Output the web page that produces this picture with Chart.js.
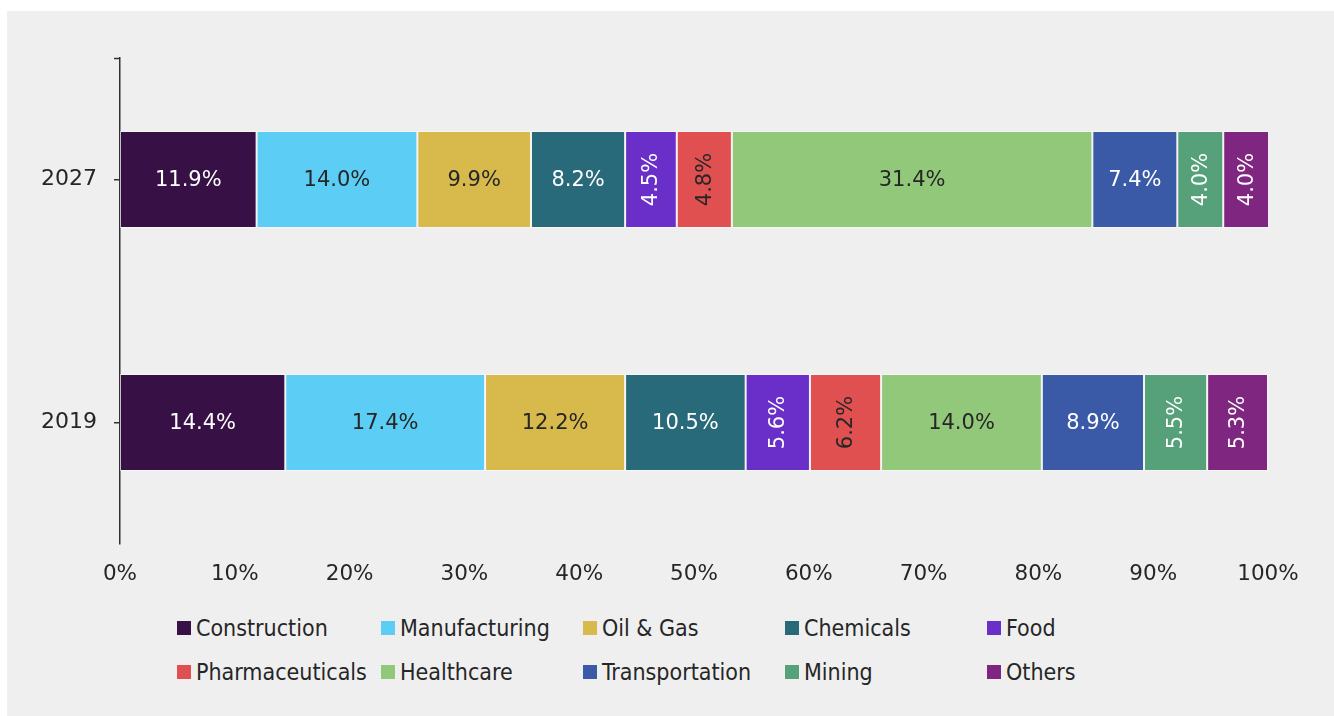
<!DOCTYPE html>
<html>
<head>
<meta charset="utf-8">
<script src="https://cdn.jsdelivr.net/npm/chart.js@4/dist/chart.umd.min.js"></script>
<style>
    html, body { margin: 0; padding: 0; background: #ffffff; }
    body { width: 1334px; height: 716px; position: relative; overflow: hidden; }
    #panel { position: absolute; left: 7px; top: 11px; right: 0; bottom: 0; background: #efefef; }
    #chart-wrap { position: absolute; left: 0; top: 0; width: 1334px; height: 600px; }
    #legend { position: absolute; left: 177px; top: 614px; display: grid;
        grid-template-columns: 204px 202px 202px 202px 202px; row-gap: 17px;
        font-family: "DejaVu Sans Condensed", "Liberation Sans", sans-serif; font-size: 23px; color: #262626; }
    .item { display: flex; align-items: center; white-space: nowrap; height: 27px; }
    .swatch { width: 14px; height: 14px; margin-right: 5px; flex: none; }
</style>
</head>
<body>
<div id="panel"></div>
<div id="chart-wrap"><canvas id="mix-canvas" width="1334" height="600"></canvas></div>
<div id="legend"></div>
<script>
(function () {
    'use strict';

    var years = ['2027', '2019'];
    var sectors = ['Construction', 'Manufacturing', 'Oil & Gas', 'Chemicals', 'Food',
        'Pharmaceuticals', 'Healthcare', 'Transportation', 'Mining', 'Others'];
    // share per sector, [2027, 2019]
    var construction = [11.9, 14.4];
    var manufacturing = [14.0, 17.4];
    var oilGas = [9.9, 12.2];
    var chemicals = [8.2, 10.5];
    var food = [4.5, 5.6];
    var pharma = [4.8, 6.2];
    var healthcare = [31.4, 14.0];
    var transportation = [7.4, 8.9];
    var mining = [4.0, 5.5];
    var others = [4.0, 5.3];
    var xTicks = [0, 10, 20, 30, 40, 50, 60, 70, 80, 90, 100];

    var values = [construction, manufacturing, oilGas, chemicals, food,
        pharma, healthcare, transportation, mining, others];
    var colors = ['#371046', '#5ccdf4', '#d8b94b', '#286a7a', '#6a2fc9',
        '#e05050', '#91c87a', '#3a5aa8', '#56a07a', '#7f2680'];
    var darkText = ['Manufacturing', 'Oil & Gas', 'Pharmaceuticals', 'Healthcare'];

    var datasets = sectors.map(function (name, i) {
        return {
            label: name,
            data: values[i],
            backgroundColor: colors[i],
            borderColor: 'rgba(255,255,255,0.45)',
            borderWidth: 1,
            borderSkipped: false,
            barPercentage: 0.4,
            categoryPercentage: 1,
        };
    });

    var valueFont = '21px "DejaVu Sans", "Liberation Sans", sans-serif';

    var barLabels = {
        id: 'barLabels',
        afterDatasetsDraw: function (chart) {
            var ctx = chart.ctx;
            ctx.save();
            ctx.font = valueFont;
            ctx.textAlign = 'center';
            ctx.textBaseline = 'middle';
            chart.data.datasets.forEach(function (ds, di) {
                var meta = chart.getDatasetMeta(di);
                ctx.fillStyle = darkText.indexOf(ds.label) >= 0 ? '#262626' : '#ffffff';
                meta.data.forEach(function (bar, i) {
                    var v = ds.data[i];
                    var cx = (bar.x + bar.base) / 2;
                    var txt = v.toFixed(1) + '%';
                    ctx.save();
                    ctx.translate(cx, bar.y);
                    if (v < 7) ctx.rotate(-Math.PI / 2);
                    ctx.fillText(txt, 0, 1);
                    ctx.restore();
                });
            });
            // little tick at the top end of the category axis
            var y = chart.scales.y;
            ctx.strokeStyle = '#303030';
            ctx.lineWidth = 1.5;
            ctx.beginPath();
            ctx.moveTo(y.right - 6, y.top + 0.5);
            ctx.lineTo(y.right, y.top + 0.5);
            ctx.stroke();
            ctx.restore();
        },
    };

    new Chart(document.getElementById('mix-canvas'), {
        type: 'bar',
        data: { labels: years, datasets: datasets },
        plugins: [barLabels],
        options: {
            indexAxis: 'y',
            responsive: false,
            animation: false,
            layout: { padding: { top: 58, right: 66, left: 0, bottom: 0 } },
            plugins: {
                legend: { display: false },
                tooltip: { enabled: false },
            },
            scales: {
                x: {
                    stacked: true,
                    min: 0,
                    max: 100,
                    afterFit: function (scale) { scale.height = 56; },
                    afterBuildTicks: function (scale) {
                        scale.ticks = xTicks.map(function (v) { return { value: v }; });
                    },
                    border: { display: false },
                    grid: { display: false, drawTicks: false },
                    ticks: {
                        padding: 18,
                        color: '#262626',
                        font: { family: '"DejaVu Sans", "Liberation Sans", sans-serif', size: 21.5 },
                        callback: function (v) { return v + '%'; },
                    },
                },
                y: {
                    stacked: true,
                    afterFit: function (scale) { scale.width = 120; },
                    border: { display: true, color: '#303030', width: 1.5 },
                    grid: {
                        offset: false,
                        drawOnChartArea: false,
                        tickLength: 6,
                        lineWidth: 1.5,
                        color: '#303030',
                    },
                    ticks: {
                        padding: 17,
                        color: '#262626',
                        font: { family: '"DejaVu Sans", "Liberation Sans", sans-serif', size: 22 },
                    },
                },
            },
        },
    });

    var legend = document.getElementById('legend');
    sectors.forEach(function (name, i) {
        var item = document.createElement('div');
        item.className = 'item';
        var sw = document.createElement('span');
        sw.className = 'swatch';
        sw.style.background = colors[i];
        var label = document.createElement('span');
        label.textContent = name;
        item.appendChild(sw);
        item.appendChild(label);
        legend.appendChild(item);
    });
})();
</script>
</body>
</html>
